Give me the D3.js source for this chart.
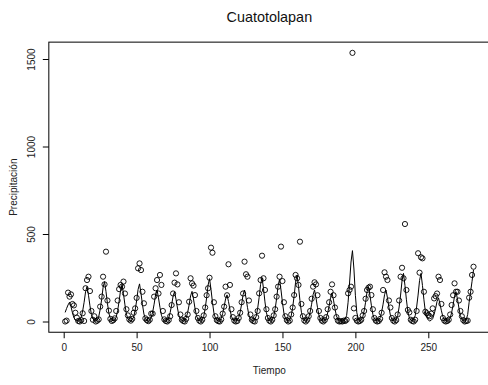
<!DOCTYPE html>
<html><head><meta charset="utf-8">
<script src="https://cdn.jsdelivr.net/npm/d3@7"></script>
<style>
body{margin:0;background:#fff;}
svg{display:block;font-family:"Liberation Sans",Arial,Helvetica,sans-serif;}
</style></head>
<body>
<svg id="chart" width="488" height="385"></svg>
<script>
const title = "Cuatotolapan";
const xLabel = "Tiempo";
const yLabel = "Precipitación";
const xTicks = [0, 50, 100, 150, 200, 250];
const yTicks = [0, 500, 1000, 1500];

// observed monthly precipitation (t = 1..281)
const observed = [
  0,5,165,142,155,100,92,50,22,3,0,8,
  47,3,190,237,256,174,60,10,30,0,5,12,
  85,142,256,212,399,120,62,15,3,8,18,60,
  120,185,209,199,228,160,70,35,12,5,15,50,
  75,135,304,332,294,170,104,18,8,2,10,45,
  45,142,190,237,160,266,209,60,12,3,0,8,
  30,94,160,222,275,212,110,40,10,3,0,15,
  40,113,247,218,205,151,60,20,5,0,10,35,
  80,150,190,250,422,393,110,30,8,2,0,12,
  45,85,199,150,327,209,70,25,5,0,3,20,
  50,110,160,342,270,256,120,40,10,3,0,25,
  60,161,237,376,247,180,70,20,5,0,10,35,
  70,142,199,256,428,231,110,30,8,0,5,40,
  80,151,266,247,209,456,100,30,6,0,10,30,
  60,130,199,224,212,150,60,20,5,0,8,25,
  70,110,170,212,150,80,25,5,0,2,0,5,
  3,10,161,180,199,1535,75,20,5,0,3,10,
  35,60,130,180,193,199,151,70,20,5,0,3,
  15,50,180,281,256,237,120,80,20,5,0,8,
  40,120,256,307,247,557,180,66,52,10,3,0,
  10,60,390,279,367,361,170,56,47,37,30,45,
  75,132,145,160,256,237,100,20,5,0,3,10,
  40,94,150,218,170,170,120,60,30,8,0,3,
  5,136,170,266,313
];

// fitted values (t = 1..281)
const fitted = [
  52,75,95,110,85,50,22,8,3,2,5,24,
  60,110,170,200,150,90,40,16,6,3,7,27,
  68,125,194,228,171,103,46,18,7,4,10,25,
  63,116,179,210,158,95,42,17,6,3,11,26,
  65,118,183,215,161,97,43,17,5,3,9,22,
  54,99,153,180,135,81,36,14,5,3,8,20,
  51,94,145,170,128,77,34,14,5,3,9,21,
  52,95,146,172,129,77,34,14,5,3,12,29,
  74,135,208,245,184,110,49,20,7,3,8,18,
  46,84,129,152,114,68,30,12,5,3,9,22,
  54,99,153,180,135,81,36,14,5,3,12,30,
  75,137,212,250,188,112,50,20,7,3,12,29,
  72,132,204,240,180,108,48,19,7,3,13,32,
  80,146,225,265,199,119,53,21,7,3,9,22,
  54,99,153,180,135,81,36,14,5,3,8,19,
  49,89,138,162,122,73,32,13,5,3,3,5,
  12,35,110,220,340,405,300,150,50,15,5,10,
  24,60,110,170,200,150,90,40,16,6,3,9,
  22,54,99,153,180,135,81,36,14,5,3,14,
  33,83,151,234,275,206,124,55,22,8,4,14,
  33,83,151,234,275,206,124,55,22,8,3,7,
  16,41,74,115,135,101,61,27,11,4,3,8,
  20,51,94,145,170,128,77,34,14,5,3,10,
  40,110,170,230,295
];

const time = observed.map((_, i) => i + 1);
const n = time.length;

const svg = d3.select("#chart");
const ink = "#000";

const x = d3.scaleLinear().domain([0, 250]).range([63.7, 428.3]);
const y = d3.scaleLinear().domain([0, 1500]).range([321.5, 59]);

const xPad = 0.04 * (n - 1);
const yMax = d3.max(observed);
const x0 = x(1 - xPad), x1 = x(n + xPad);
const yb = y(-0.04 * yMax), yt = y(yMax * 1.04);

// box
svg.append("rect").attr("x", x0).attr("y", yt)
  .attr("width", x1 - x0).attr("height", yb - yt)
  .attr("fill", "none").attr("stroke", ink).attr("stroke-width", 1);

// x axis
const xAxis = d3.axisBottom(x).tickValues(xTicks).tickSize(6).tickPadding(6)
  .tickFormat(d3.format("d"));
const gx = svg.append("g").attr("transform", `translate(0,${yb})`).call(xAxis);
gx.select(".domain").remove();
gx.selectAll("line").attr("stroke", ink);
gx.selectAll("text").attr("font-size", 10).attr("fill", "#222")
  .attr("font-family", "'Liberation Sans',Arial,sans-serif");

// y axis
const yAxis = d3.axisLeft(y).tickValues(yTicks).tickSize(6).tickFormat(d3.format("d"));
const gy = svg.append("g").attr("transform", `translate(${x0},0)`).call(yAxis);
gy.select(".domain").remove();
gy.selectAll("line").attr("stroke", ink);
gy.selectAll("text").remove();
gy.selectAll(".tick").append("text")
  .attr("transform", "translate(-14,0) rotate(-90)")
  .attr("text-anchor", "middle")
  .attr("font-size", 10).attr("fill", "#222")
  .attr("font-family", "'Liberation Sans',Arial,sans-serif")
  .text(d => d);

// title & labels
svg.append("text").attr("x", (x0 + x1) / 2).attr("y", 22)
  .attr("text-anchor", "middle").attr("font-size", 14.4).attr("fill", "#111")
  .text(title);
svg.append("text").attr("x", (x0 + x1) / 2).attr("y", 374)
  .attr("text-anchor", "middle").attr("font-size", 10).attr("fill", "#222")
  .text(xLabel);
svg.append("text")
  .attr("transform", `translate(17,${(yt + yb) / 2}) rotate(-90)`)
  .attr("text-anchor", "middle").attr("font-size", 10).attr("fill", "#222")
  .text(yLabel);

// fitted line
const line = d3.line().x((d, i) => x(time[i])).y(d => y(d));
svg.append("path").datum(fitted).attr("d", line)
  .attr("fill", "none").attr("stroke", ink).attr("stroke-width", 1);

// points
svg.append("g").selectAll("circle").data(observed).join("circle")
  .attr("cx", (d, i) => x(time[i])).attr("cy", d => y(d)).attr("r", 2.6)
  .attr("fill", "none").attr("stroke", ink).attr("stroke-width", 0.9);
</script>
</body></html>
